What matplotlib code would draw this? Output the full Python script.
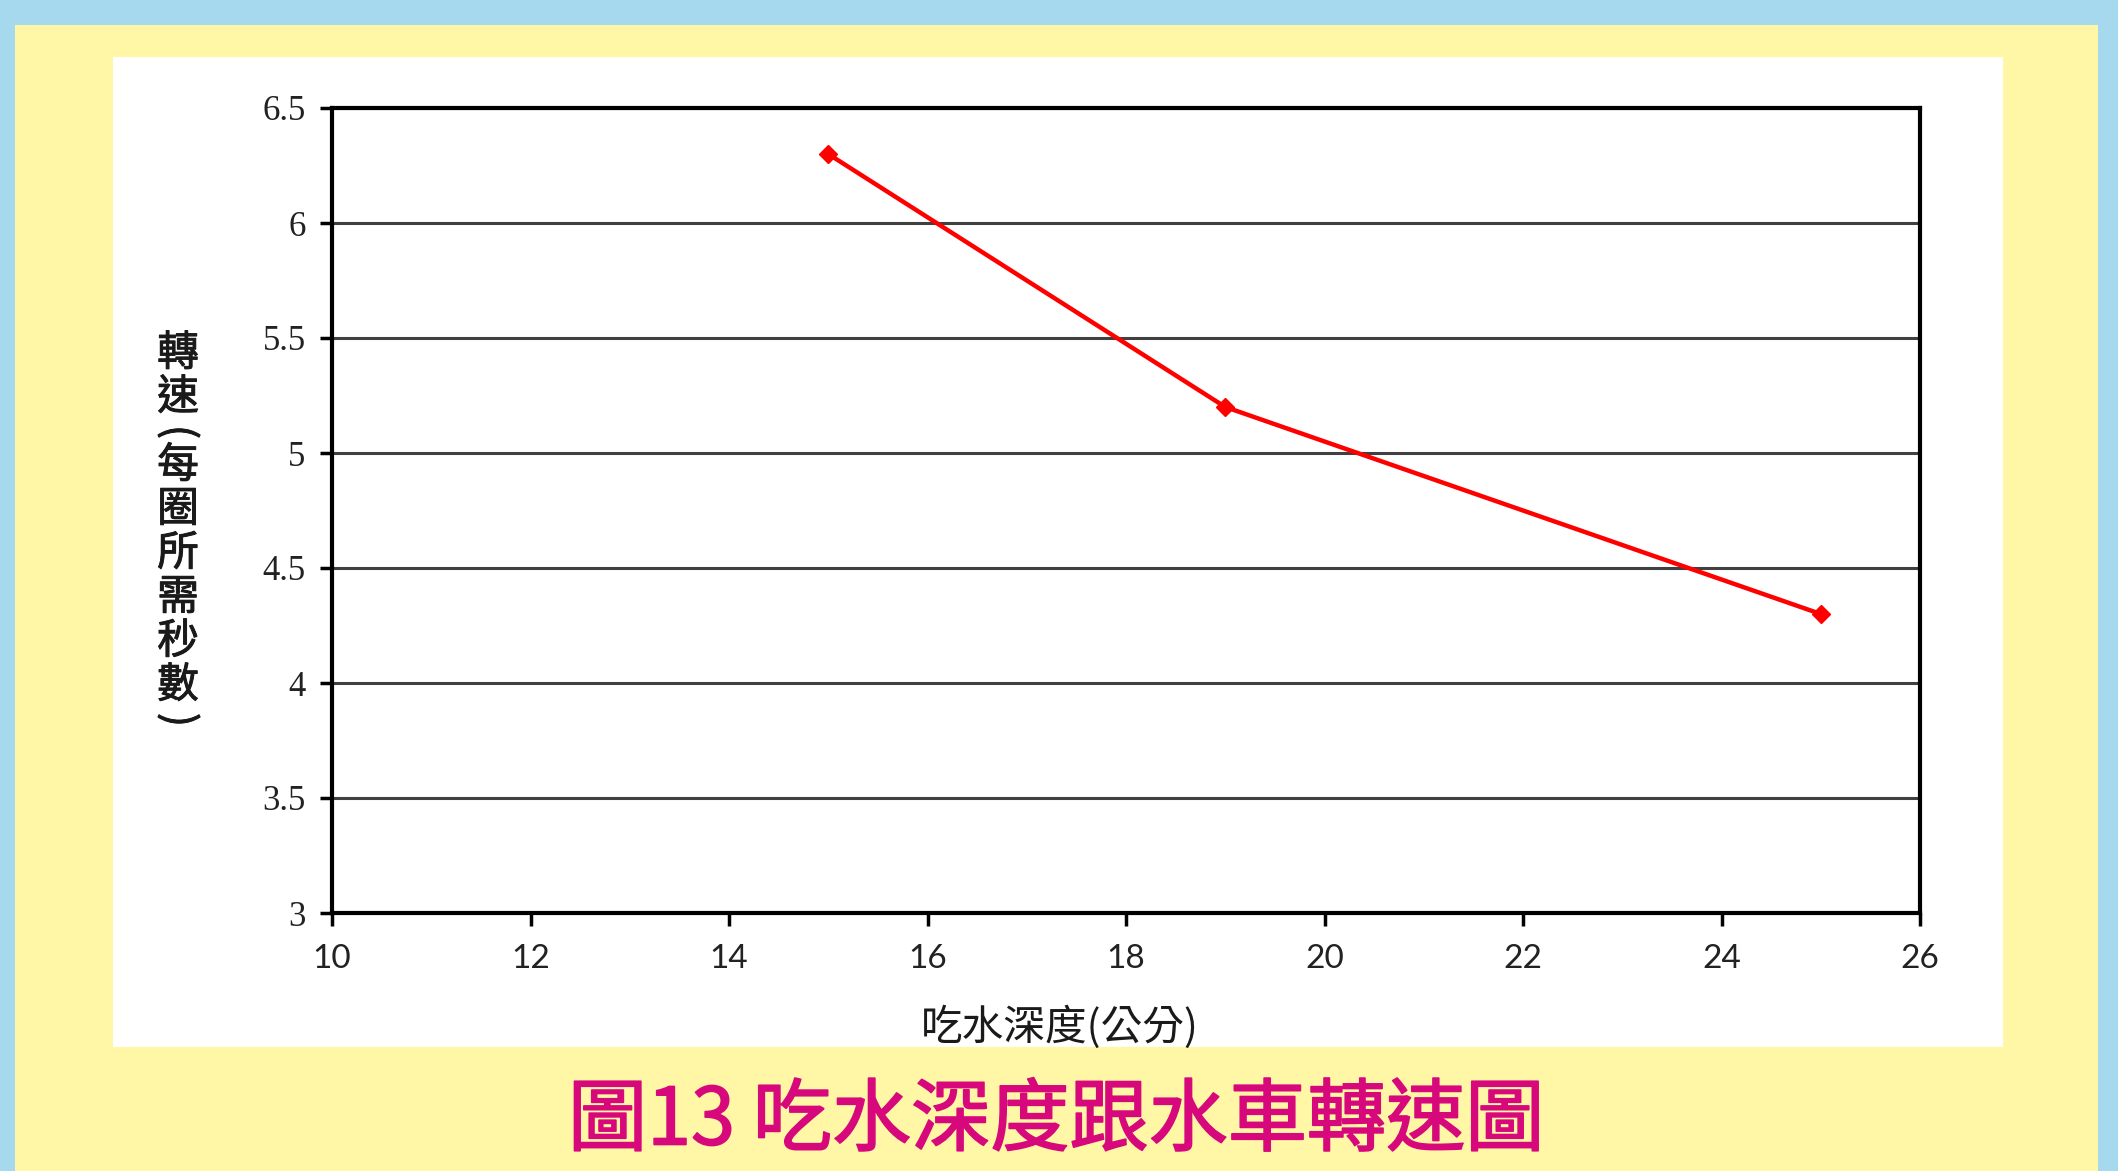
from matplotlib import pyplot as plt
from matplotlib.patches import Rectangle
import matplotlib.patheffects as pe
import numpy as np

plt.rcParams['font.family'] = ['Noto Sans CJK TC', 'DejaVu Sans']

# 吃水深度(公分) vs 每圈所需秒數
depth = [15, 19, 25]
sec_per_turn = [6.3, 5.2, 4.3]

x_ticks = [10, 12, 14, 16, 18, 20, 22, 24, 26]
y_ticks = [3, 3.5, 4, 4.5, 5, 5.5, 6, 6.5]
y_tick_labels = ['3', '3.5', '4', '4.5', '5', '5.5', '6', '6.5']

x_title = '吃水深度(公分)'
y_title = '轉速(每圈所需秒數)'
fig_title = '圖13 吃水深度跟水車轉速圖'

W, H = 2118, 1171
fig = plt.figure(figsize=(W / 100, H / 100), dpi=100)
fig.patch.set_facecolor('#a6d8ee')


def px_rect(x0, y0, x1, y1, color):
    # rectangle given in pixel coords, origin top-left
    r = Rectangle((x0 / W, 1 - y1 / H), (x1 - x0) / W, (y1 - y0) / H,
                  transform=fig.transFigure, facecolor=color,
                  edgecolor='none', zorder=-5)
    fig.patches.append(r)


px_rect(15, 25, 2098, H + 5, '#fff6a6')
px_rect(113, 57, 2003, 1047, '#ffffff')

ax = fig.add_axes([332 / W, 1 - 913 / H, 1588 / W, 805 / H])
ax.set_facecolor('white')

ax.plot(depth, sec_per_turn, color='#ff0000', lw=3.2, marker='D',
        markersize=9, zorder=3, clip_on=False)

ax.set_xlim(10, 26)
ax.set_ylim(3, 6.5)
ax.set_xticks(x_ticks)
ax.set_yticks(y_ticks)
ax.set_yticklabels(y_tick_labels, family='Liberation Serif', fontsize=25,
                   color='#222222')
ax.set_xticklabels([str(t) for t in x_ticks], family='Lato', fontsize=24,
                   color='#222222')
ax.tick_params(axis='both', direction='out', length=9, width=2.5, color='black')
ax.tick_params(axis='x', pad=13)
ax.tick_params(axis='y', pad=10)

ax.yaxis.grid(True, color='#404040', lw=2.2)
ax.set_axisbelow(True)
for s in ax.spines.values():
    s.set_linewidth(3)
    s.set_color('black')

# x axis title
fig.text(1060 / W, 1 - 1027 / H, x_title, ha='center', va='center',
         fontsize=30, color='#1a1a1a')

# vertical y axis title, one glyph at a time
thick_dark = [pe.withStroke(linewidth=0.7, foreground='#1a1a1a')]
yy = 332
for ch in y_title:
    if ch in '()':
        yy += 12
        fig.text(178 / W, 1 - yy / H, ch, ha='center', va='center',
                 fontsize=30, rotation=-90, color='#1a1a1a',
                 path_effects=thick_dark)
        yy += 12
    else:
        yy += 22
        fig.text(178 / W, 1 - yy / H, ch, ha='center', va='center',
                 fontsize=30, color='#1a1a1a', path_effects=thick_dark)
        yy += 22

fig.text(1056 / W, 1 - 1122 / H, fig_title, ha='center', va='center',
         fontsize=57, color='#d6087c',
         path_effects=[pe.withStroke(linewidth=1.2, foreground='#d6087c')])

fig.savefig('out.png', dpi=100)
